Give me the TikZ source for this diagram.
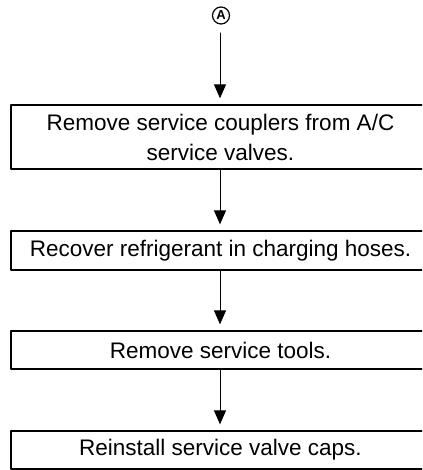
\documentclass[tikz,border=0pt]{standalone}
\usepackage{fontspec}
\setmainfont{Liberation Sans}
\usetikzlibrary{arrows.meta}

\begin{document}
\begin{tikzpicture}[x=1pt, y=1pt, line cap=round, line join=round, >={Triangle[length=14pt,width=12pt]},
		stepbox/.style={draw, line width=1.3pt, minimum width=419pt, align=center, inner sep=0pt,
			font=\fontsize{22.5}{30}\selectfont},
		flow/.style={->, line width=1pt, shorten >=6pt}]
		% frame
		\clip (0,0) rectangle (422,-470);
		% connector mark
		\node (mark) at (221,-15.5) [draw, circle, line width=1.2pt, minimum size=17pt, inner sep=0pt,
			font=\fontsize{13}{13}\selectfont\bfseries] {A};
		% boxes
		\node (couplers) at (220.5,-137) [stepbox, minimum height=64pt] {Remove service couplers from A/C\\service valves.};
		\node (recover) at (220.5,-250.5) [stepbox, minimum height=39pt] {Recover refrigerant in charging hoses.};
		\node (tools) at (220.5,-350) [stepbox, minimum height=38pt] {Remove service tools.};
		\node (caps) at (220.5,-450) [stepbox, minimum height=38pt] {Reinstall service valve caps.};
		% arrows
		\coordinate (start) at (220,-33);
		\draw [flow] (start) -- (start |- couplers.north);
		\draw [flow] (couplers.south -| start) -- (start |- recover.north);
		\draw [flow] (recover.south -| start) -- (start |- tools.north);
		\draw [flow] (tools.south -| start) -- (start |- caps.north);
	\end{tikzpicture}
\end{document}
